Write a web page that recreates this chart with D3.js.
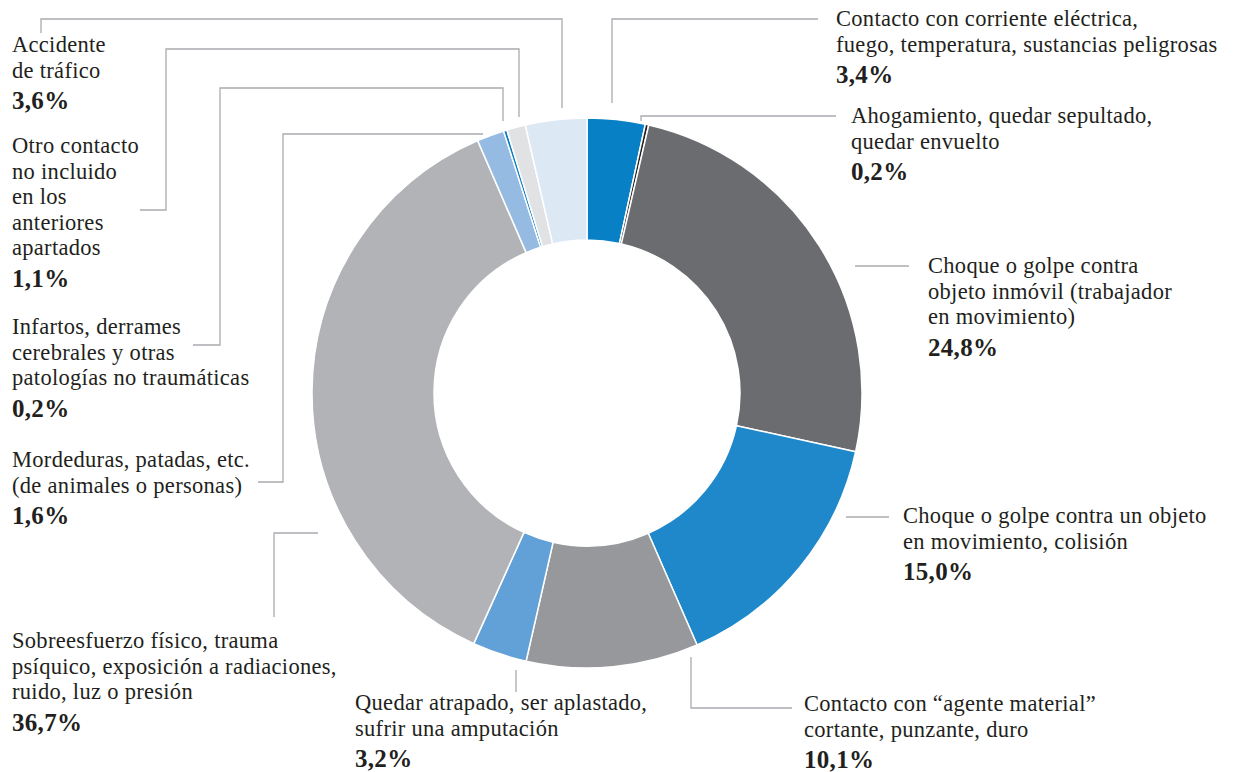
<!DOCTYPE html>
<html lang="es">
<head>
<meta charset="utf-8">
<script src="https://cdn.jsdelivr.net/npm/d3@7"></script>
<style>
  html, body { margin: 0; padding: 0; background: #ffffff; }
  svg { display: block; }
  .lbl { font-family: "Liberation Serif", "Times New Roman", serif; fill: #231f20; }
  .lbl .name { font-size: 22.5px; letter-spacing: 0.3px; }
  .lbl .val { font-size: 25px; font-weight: bold; letter-spacing: 0.3px; }
</style>
</head>
<body>
<svg id="chart" width="1240" height="772"></svg>
<script>
// Accident types, clockwise from 12 o'clock
const categories = [
  "Contacto con corriente eléctrica,\nfuego, temperatura, sustancias peligrosas",
  "Ahogamiento, quedar sepultado,\nquedar envuelto",
  "Choque o golpe contra\nobjeto inmóvil (trabajador\nen movimiento)",
  "Choque o golpe contra un objeto\nen movimiento, colisión",
  "Contacto con “agente material”\ncortante, punzante, duro",
  "Quedar atrapado, ser aplastado,\nsufrir una amputación",
  "Sobreesfuerzo físico, trauma\npsíquico, exposición a radiaciones,\nruido, luz o presión",
  "Mordeduras, patadas, etc.\n(de animales o personas)",
  "Infartos, derrames\ncerebrales y otras\npatologías no traumáticas",
  "Otro contacto\nno incluido\nen los\nanteriores\napartados",
  "Accidente\nde tráfico"
];

// Share of accidents, %
const values = [3.4, 0.2, 24.8, 15.0, 10.1, 3.2, 36.7, 1.6, 0.2, 1.1, 3.6];

const colors = [
  "#0880c6", "#231f20", "#6b6c70", "#1e88cb", "#97989b", "#62a0d8",
  "#b2b3b6", "#96bbe2", "#0a7cc4", "#e1e2e4", "#dde8f5"
];

// Label anchors: left x and first baseline
const labelX = [836, 851, 928, 903, 804, 355, 12, 12, 12, 12, 12];
const labelY = [26, 123, 273, 523, 711, 710, 648, 467, 334, 153, 52];

// Leader line routes, from the ring outwards to the label
const leaders = [
  [[612, 103], [612, 19], [818, 19]],
  [[641, 121], [641, 116], [836, 116]],
  [[855, 266], [909, 266]],
  [[846, 517], [889, 517]],
  [[691, 657], [691, 708], [792, 708]],
  [[516, 670], [516, 692]],
  [[318, 533], [274, 533], [274, 617]],
  [[483, 134], [283, 134], [283, 482], [258, 482]],
  [[503, 121], [503, 88], [220, 88], [220, 345], [193, 345]],
  [[519, 117], [519, 49], [166, 49], [166, 210], [140, 210]],
  [[562, 108], [562, 19], [41, 19], [41, 33]]
];

const cx = 587, cy = 393, outerR = 275, innerR = 153;
const lineH = 25.5, valGap = 31.5;

const es = d3.formatLocale({ decimal: ",", thousands: ".", grouping: [3], currency: ["", " €"] });
const fmt = v => es.format(".1f")(v) + "%";

const svg = d3.select("#chart");

// Leader lines
const lineGen = d3.line();
svg.append("g")
  .selectAll("path")
  .data(leaders)
  .join("path")
  .attr("d", d => lineGen(d))
  .attr("fill", "none")
  .attr("stroke", "#a9abae")
  .attr("stroke-width", 1.3);

// Donut
const pie = d3.pie().sort(null).value(d => d).startAngle(0).endAngle(2 * Math.PI);
const arc = d3.arc().innerRadius(innerR).outerRadius(outerR);

svg.append("g")
  .attr("transform", `translate(${cx},${cy})`)
  .selectAll("path")
  .data(pie(values))
  .join("path")
  .attr("d", arc)
  .attr("fill", (d, i) => colors[i])
  .attr("stroke", "#ffffff")
  .attr("stroke-width", 1.5)
  .attr("stroke-linejoin", "round");

// Labels
const labels = svg.append("g").attr("class", "lbl")
  .selectAll("g")
  .data(categories.map((c, i) => ({ lines: c.split("\n"), value: values[i], x: labelX[i], y: labelY[i] })))
  .join("g")
  .attr("transform", d => `translate(${d.x},${d.y})`);

labels.each(function (d) {
  const g = d3.select(this);
  g.selectAll("text.name")
    .data(d.lines)
    .join("text")
    .attr("class", "name")
    .attr("y", (t, j) => j * lineH)
    .text(t => t);
  g.append("text")
    .attr("class", "val")
    .attr("y", (d.lines.length - 1) * lineH + valGap)
    .text(fmt(d.value));
});
</script>
</body>
</html>
